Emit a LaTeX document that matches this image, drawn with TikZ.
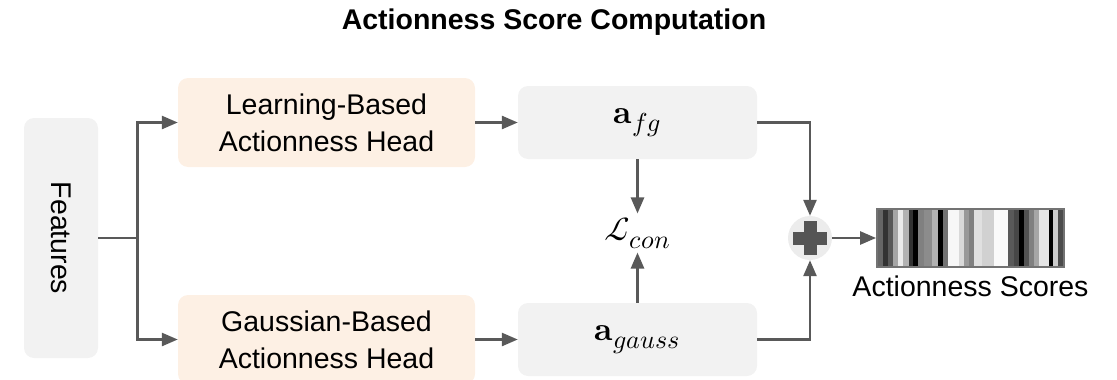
\documentclass[tikz,border=0pt]{standalone}
\usepackage{unicode-math}
\setmainfont{Liberation Sans}
\setmathfont{Latin Modern Math}
\DeclareMathSizes{33}{33}{26}{20}
\usetikzlibrary{positioning,arrows.meta,calc}

\definecolor{boxgray}{RGB}{242,242,242}
\definecolor{headpeach}{RGB}{253,240,228}
\definecolor{linegray}{RGB}{89,89,89}
\definecolor{plusbg}{RGB}{236,236,236}
\definecolor{plusfg}{RGB}{85,85,85}

\begin{document}
\begin{tikzpicture}
[x=1pt,y=-1pt,
 every node/.style={font=\fontsize{28.5}{37}\selectfont,align=center},
 feat/.style={rectangle,rounded corners=10pt,fill=boxgray,minimum width=74pt,minimum height=240pt,inner sep=0pt},
 head/.style={rectangle,rounded corners=10pt,fill=headpeach,minimum width=297pt,minimum height=89pt,inner sep=0pt},
 act/.style={rectangle,rounded corners=10pt,fill=boxgray,minimum width=239pt,minimum height=73pt,inner sep=0pt,font=\fontsize{33}{40}\selectfont},
 loss/.style={inner sep=2pt,outer sep=2pt,font=\fontsize{33}{40}\selectfont},
 sum/.style={circle,fill=plusbg,minimum size=44pt,inner sep=0pt,
   path picture={
     \fill[plusfg] ($(path picture bounding box.center)+(-17,-6.5)$) rectangle ($(path picture bounding box.center)+(17,6.5)$);
     \fill[plusfg] ($(path picture bounding box.center)+(-6.5,-17)$) rectangle ($(path picture bounding box.center)+(6.5,17)$);}},
 bar/.style={rectangle,draw=black!55,line width=1.5pt,minimum width=187.3pt,minimum height=58pt,inner sep=0pt,
   path picture={
     \foreach \a/\b/\c in {0/6/60,6/10.7/80,10.7/16/65,16/20.7/35,20.7/26/8,26/31.7/30,31.7/36/80,36/40.7/100,
                           40.7/46.7/50,46.7/55/45,55/60.7/30,60.7/65.7/100,65.7/71/55,71/81.7/3,81.7/86.7/15,
                           86.7/91.7/40,91.7/96.7/50,96.7/105/12,105/116.7/18,116.7/130.7/2,130.7/136.7/65,
                           136.7/141.7/72,141.7/146.7/100,146.7/151.7/68,151.7/156.7/50,156.7/161.7/35,
                           161.7/171.7/10,171.7/176/100,176/181/20,181/187.3/70}
       \fill[black!\c] ($(path picture bounding box.north west)+(\a,0)$) rectangle ($(path picture bounding box.south west)+(\b,0)$);}},
 ln/.style={line width=2.6pt,draw=linegray},
 arr/.style={ln,-{Triangle[length=16pt,width=13pt]}}]
\useasboundingbox (0,0) rectangle (1117,380);

\node[font=\bfseries\fontsize{28.5}{35}\selectfont,anchor=base] (title) at (554,29) {Actionness Score Computation};

\node[feat] (feat) at (61,238) {\rotatebox{-90}{Features}};
\node[head] (learn) [on grid,above right=115.5pt and 265.5pt of feat] {Learning-Based\\Actionness Head};
\node[head] (gauss) [on grid,below right=101.5pt and 265.5pt of feat] {Gaussian-Based\\Actionness Head};
\node[act]  (afg)    [on grid,right=311pt of learn] {$\symbf{a}_{fg}$};
\node[act]  (agauss) [on grid,right=311pt of gauss] {$\symbf{a}_{gauss}$};
\node[loss] (lcon)   [on grid,below=110.5pt of afg] {$\symcal{L}_{con}$};
\node[sum]  (plus)   [on grid,below right=115.5pt and 172.5pt of afg] {};
\node[bar]  (scores) [on grid,right=160.5pt of plus] {};
\node[anchor=base] (scorelabel) at ($(scores.south)+(0,29)$) {Actionness Scores};

% split point of the feature line
\coordinate (split) at ($(feat.east)+(39,0)$);
\draw[ln]  (feat)   -- (split);
\draw[arr] (split)  |- (learn);
\draw[arr] (split)  |- (gauss);
\draw[arr] (learn)  -- (afg);
\draw[arr] (gauss)  -- (agauss);
\draw[arr] (afg)    -- (lcon);
\draw[arr] (agauss) -- (lcon);
\draw[arr] (afg)    -| (plus);
\draw[arr] (agauss) -| (plus);
\draw[arr] (plus)   -- (scores);
\end{tikzpicture}
\end{document}
